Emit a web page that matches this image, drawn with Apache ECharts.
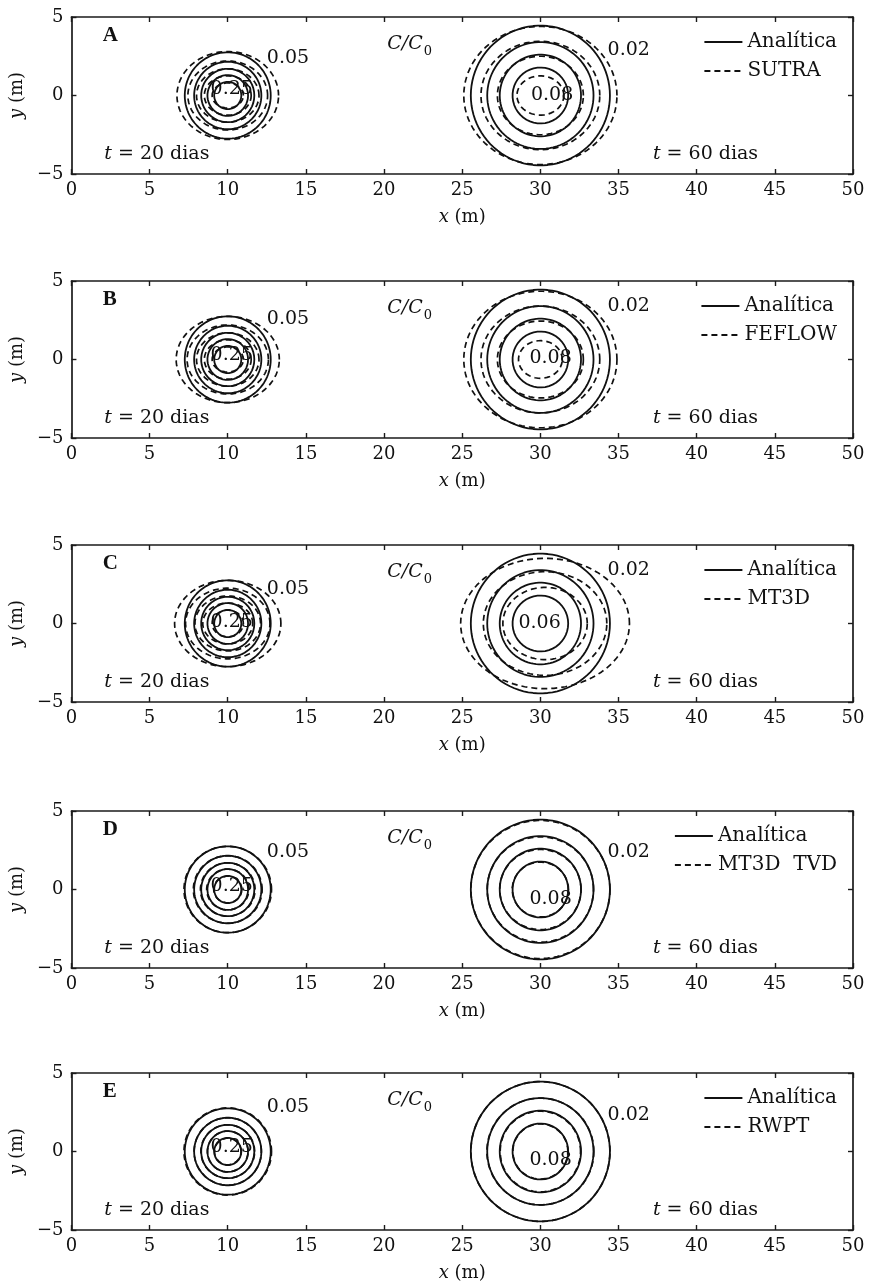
<!DOCTYPE html>
<html>
<head>
<meta charset="utf-8">
<script src="https://cdn.jsdelivr.net/npm/echarts@6/dist/echarts.min.js"></script>
<style>
html,body{margin:0;padding:0;background:#fff;}
#c{width:872px;height:1287px;}
</style>
</head>
<body>
<div id="c"></div>
<script>
// ---------- data ----------
const panelLetters = ['A', 'B', 'C', 'D', 'E'];
const methodNames = ['SUTRA', 'FEFLOW', 'MT3D', 'MT3D  TVD', 'RWPT'];
const xTicks = [0, 5, 10, 15, 20, 25, 30, 35, 40, 45, 50];
const yTicks = [-5, 0, 5];
// plume centres (m)
const center20 = [10, 10, 10, 10, 10];
const center60 = [30, 30, 30.3, 30, 30];
// analytical contour radii (m): t = 20 d levels 0.05..0.25, t = 60 d levels 0.02..0.08
const analyticR20 = [2.75, 2.15, 1.7, 1.3, 0.87];
const analyticR60 = [4.45, 3.4, 2.6, 1.78];
// numerical contours: semi-axes in x and y (m), one row per panel
const numRx20 = [
  [3.25, 2.55, 2.0, 1.5, 1.0],
  [3.3, 2.6, 2.0, 1.5, 1.0],
  [3.4, 2.7, 2.1, 1.6, 1.0],
  [2.8, 2.2, 1.75, 1.35, 0.9],
  [2.8, 2.15, 1.72, 1.3, 0.85]
];
const numRy20 = [
  [2.8, 2.2, 1.7, 1.25, 0.8],
  [2.75, 2.2, 1.7, 1.25, 0.8],
  [2.75, 2.25, 1.75, 1.3, 0.85],
  [2.75, 2.15, 1.7, 1.3, 0.85],
  [2.78, 2.15, 1.7, 1.3, 0.85]
];
const numRx60 = [
  [4.9, 3.8, 2.75, 1.5],
  [4.9, 3.8, 2.75, 1.4],
  [5.4, 3.95, 2.7],
  [4.45, 3.4, 2.6, 1.8],
  [4.45, 3.42, 2.57, 1.76]
];
const numRy60 = [
  [4.4, 3.45, 2.5, 1.25],
  [4.35, 3.4, 2.45, 1.2],
  [4.15, 3.3, 2.3],
  [4.4, 3.35, 2.55, 1.75],
  [4.45, 3.4, 2.57, 1.76]
];
// contour labels
const outerLabel20 = '0.05';
const outerLabel60 = '0.02';
const innerLabel20 = '0.25';
const innerLabel60 = ['0.08', '0.08', '0.06', '0.08', '0.08'];

// ---------- layout ----------
const gridTops = [17, 281, 545, 811, 1073];
const GRID_H = 157, GRID_L = 68, GRID_R = 19;
const FONT = 'DejaVu Serif';
const INK = '#111';

function ellipse(cx, rx, ry) {
  const pts = [];
  for (let a = 0; a <= 360; a += 4) {
    const t = a * Math.PI / 180;
    pts.push([cx + rx * Math.cos(t), ry * Math.sin(t)]);
  }
  return pts;
}

const grid = [], xAxis = [], yAxis = [], series = [], legend = [];
const tickFmt = v => (v < 0 ? '\u2212' + Math.abs(v) : String(v));

panelLetters.forEach((letter, i) => {
  grid.push({left: GRID_L, right: GRID_R, top: gridTops[i], height: GRID_H});
  const axisLine = {show: true, onZero: false, lineStyle: {color: '#1a1a1a', width: 1.7}};
  const tick = {show: true, inside: true, length: 5, lineStyle: {color: '#1a1a1a', width: 1.4}};
  xAxis.push({
    gridIndex: i, type: 'value', min: xTicks[0], max: xTicks[xTicks.length - 1], interval: 5,
    axisLine, axisTick: tick,
    axisLabel: {fontFamily: FONT, fontSize: 18, color: INK, margin: 7},
    splitLine: {show: false},
    name: '{i|x} (m)', nameLocation: 'middle', nameGap: 34,
    nameTextStyle: {fontFamily: FONT, fontSize: 18, color: INK, rich: {i: {fontStyle: 'italic', fontFamily: FONT, fontSize: 18, color: INK}}}
  });
  xAxis.push({
    gridIndex: i, type: 'value', position: 'top', min: 0, max: 50, interval: 5,
    axisLine, axisTick: tick,
    axisLabel: {show: false}, splitLine: {show: false}
  });
  yAxis.push({
    gridIndex: i, type: 'value', min: yTicks[0], max: yTicks[yTicks.length - 1], interval: 5,
    axisLine, axisTick: tick,
    axisLabel: {fontFamily: FONT, fontSize: 18, color: INK, margin: 8, formatter: tickFmt},
    splitLine: {show: false},
    name: '{i|y} (m)', nameLocation: 'middle', nameGap: 38,
    nameTextStyle: {fontFamily: FONT, fontSize: 18, color: INK, rich: {i: {fontStyle: 'italic', fontFamily: FONT, fontSize: 18, color: INK}}}
  });
  yAxis.push({
    gridIndex: i, type: 'value', position: 'right', min: -5, max: 5, interval: 5,
    axisLine, axisTick: tick,
    axisLabel: {show: false}, splitLine: {show: false}
  });
  const xi = 2 * i, yi = 2 * i;
  const solid = {color: INK, width: 1.8, type: 'solid'};
  const dashed = {color: INK, width: 1.7, type: [6, 4]};
  const base = {type: 'line', xAxisIndex: xi, yAxisIndex: yi, symbol: 'none', silent: true, z: 3, color: INK};
  analyticR20.forEach(r => series.push({
    ...base, name: 'Analítica', lineStyle: solid, data: ellipse(center20[i], r, r)
  }));
  analyticR60.forEach(r => series.push({
    ...base, name: 'Analítica', lineStyle: solid, data: ellipse(30, r, r)
  }));
  numRx20[i].forEach((rx, k) => series.push({
    ...base, name: methodNames[i], lineStyle: dashed, data: ellipse(center20[i], rx, numRy20[i][k])
  }));
  numRx60[i].forEach((rx, k) => series.push({
    ...base, name: methodNames[i], lineStyle: dashed, data: ellipse(center60[i], rx, numRy60[i][k])
  }));

  // annotations (text placed in data coordinates)
  const notes = [
    {value: [2.0, 3.8], text: '{b|' + letter + '}'},
    {value: [20.2, 3.3], text: '{c|C/C}{s|0}'},
    {value: [2.1, -3.75], text: '{i|t} = 20 dias'},
    {value: [37.2, -3.75], text: '{i|t} = 60 dias'},
    {value: [12.5, [2.4, 2.6, 2.2, 2.4, 2.8][i]], text: outerLabel20},
    {value: [34.3, [2.9, 3.4, 3.4, 2.4, 2.3][i]], text: outerLabel60},
    {value: [8.9, [0.4, 0.3, 0.1, 0.2, 0.3][i]], text: innerLabel20},
    {value: [[29.4, 29.3, 28.6, 29.3, 29.3][i], [0, 0.1, 0, -0.6, -0.55][i]], text: innerLabel60[i]}
  ];
  series.push({
    type: 'scatter', xAxisIndex: xi, yAxisIndex: yi, symbolSize: 0, silent: true, z: 5,
    itemStyle: {opacity: 1, color: INK},
    data: notes.map(n => ({value: n.value, text: n.text})),
    label: {
      show: true, position: 'right', distance: 0, opacity: 1,
      formatter: p => p.data.text,
      fontFamily: FONT, fontSize: 19, color: INK,
      rich: {
        b: {fontFamily: 'Liberation Serif', fontSize: 21, fontWeight: 'bold', color: INK},
        i: {fontFamily: FONT, fontSize: 19, fontStyle: 'italic', color: INK},
        c: {fontFamily: FONT, fontSize: 19, fontStyle: 'italic', color: INK},
        s: {fontFamily: FONT, fontSize: 13, color: INK, padding: [16, 0, 0, 1]}
      }
    }
  });

  legend.push({
    orient: 'vertical', right: 30, top: gridTops[i] + 10,
    data: ['Analítica', methodNames[i]], selectedMode: false,
    itemWidth: 38, itemHeight: 12, itemGap: 9,
    itemStyle: {opacity: 0},
    textStyle: {fontFamily: FONT, fontSize: 20, color: INK}
  });
});

const chart = echarts.init(document.getElementById('c'), null, {renderer: 'canvas'});
chart.setOption({
  animation: false,
  backgroundColor: '#fff',
  grid, xAxis, yAxis, series, legend
});
</script>
</body>
</html>
